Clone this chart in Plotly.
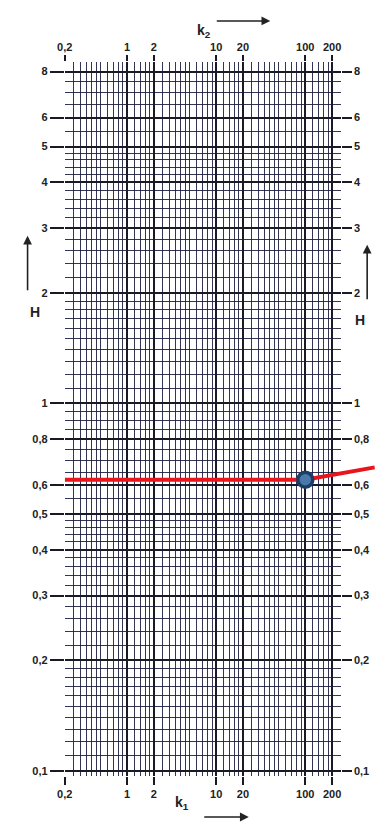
import numpy as np
import plotly.graph_objects as go

# ---- data -------------------------------------------------------------
# labelled k values (both k1 bottom and k2 top)
k_ticks = [0.2, 1, 2, 10, 20, 100, 200]
k_text = ["0,2", "1", "2", "10", "20", "100", "200"]
# labelled H values
h_ticks = [0.1, 0.2, 0.3, 0.4, 0.5, 0.6, 0.8, 1, 2, 3, 4, 5, 6, 8]
h_text = ["0,1", "0,2", "0,3", "0,4", "0,5", "0,6", "0,8", "1", "2", "3", "4", "5", "6", "8"]
# operating line and its point
line_k = [0.2, 100, 600]
line_h = [0.62, 0.62, 0.67]
point_k = [100]
point_h = [0.62]

# ---- log paper rulings -------------------------------------------------
k_mant = [1, 1.2, 1.4, 1.6, 1.8, 2, 2.5, 3, 3.5, 4, 4.5, 5, 6, 7, 8, 9]
h_mant = ([1 + 0.1 * i for i in range(10)] + [2 + 0.2 * i for i in range(15)]
          + [5 + 0.5 * i for i in range(10)])
k_grid = [round(m * 10 ** d, 6) for d in range(-1, 3) for m in k_mant]
k_grid = [v for v in k_grid if 0.2 <= v <= 250 and v not in k_ticks]
h_grid = [round(m * 10 ** d, 6) for d in range(-1, 1) for m in h_mant]
h_grid = [v for v in h_grid if 0.1 <= v <= 8 and v not in h_ticks]

W, H = 375, 831
x0_px, x1_px = 58, 340
k_lo, k_hi = 0.2, 250          # extent of the ruled sheet
x_lo, x_hi = np.log10(k_lo), np.log10(k_hi)
y_top_px, y_bot_px = 62, 777
y_lo, y_hi = -1.014, np.log10(8.5)
dom_x = [x0_px / W, x1_px / W]
dom_y = [(H - y_bot_px) / H, (H - y_top_px) / H]
# a second, wider k scale (same px per decade) lets the line run to the page edge
x_end = x_lo + (x_hi - x_lo) * (W - x0_px) / (x1_px - x0_px)
dom_x_wide = [x0_px / W, 1]

ink = "#1a1a26"
minor_ink = "rgba(30,30,64,0.9)"
font = dict(family="Liberation Sans, Arial, sans-serif", size=11, color="#222", weight="bold")

fig = go.Figure()
# invisible anchors so the ruled sheet and its top/right axes get drawn
fig.add_trace(go.Scatter(x=[1], y=[1], mode="markers", marker=dict(opacity=0),
                         hoverinfo="skip"))
fig.add_trace(go.Scatter(x=[1], y=[1], xaxis="x2", yaxis="y2", mode="markers",
                         marker=dict(opacity=0), hoverinfo="skip"))
# operating line on the wide scale
fig.add_trace(go.Scatter(x=line_k, y=line_h, mode="lines", xaxis="x3", yaxis="y3",
                         line=dict(color="#e8161c", width=4), hoverinfo="skip"))
fig.add_trace(go.Scatter(x=point_k, y=point_h, mode="markers", xaxis="x3", yaxis="y3",
                         cliponaxis=False,
                         marker=dict(size=15, color="#4a78a8",
                                     line=dict(color="#1b3d66", width=3.5))))

fig.update_layout(
    width=W, height=H, margin=dict(l=0, r=0, t=0, b=0),
    paper_bgcolor="white", plot_bgcolor="rgba(0,0,0,0)", showlegend=False,
    xaxis=dict(type="log", range=[x_lo, x_hi], domain=dom_x, anchor="y",
               tickvals=k_ticks, ticktext=k_text, ticks="outside", ticklen=8,
               tickwidth=1.5, tickcolor=ink, tickfont=font,
               showgrid=True, gridcolor=ink, gridwidth=1.7, zeroline=False,
               showline=False,
               minor=dict(tickvals=k_grid, showgrid=True, gridcolor=minor_ink,
                          gridwidth=1.1)),
    xaxis2=dict(type="log", range=[x_lo, x_hi], overlaying="x", side="top", anchor="y2",
                tickvals=k_ticks, ticktext=k_text, ticks="outside", ticklen=6,
                tickwidth=1.5, tickcolor=ink, tickfont=font, showgrid=False,
                zeroline=False, showline=False),
    xaxis3=dict(type="log", range=[x_lo, x_end], domain=dom_x_wide, anchor="y3",
                showgrid=False, zeroline=False, showticklabels=False, ticks="",
                showline=False),
    yaxis=dict(type="log", range=[y_lo, y_hi], domain=dom_y, anchor="x",
               tickvals=h_ticks, ticktext=h_text, ticks="outside", ticklen=14,
               tickwidth=1.5, tickcolor=ink, tickfont=font,
               showgrid=True, gridcolor=ink, gridwidth=1.7, zeroline=False,
               showline=False,
               minor=dict(tickvals=h_grid, showgrid=True, gridcolor=minor_ink,
                          gridwidth=1.1)),
    yaxis2=dict(type="log", range=[y_lo, y_hi], overlaying="y", side="right", anchor="x2",
                tickvals=h_ticks, ticktext=h_text, ticks="outside", ticklen=10,
                tickwidth=1.5, tickcolor=ink, tickfont=font, showgrid=False,
                zeroline=False, showline=False),
    yaxis3=dict(type="log", range=[y_lo, y_hi], domain=dom_y, anchor="x3",
                showgrid=False, zeroline=False, showticklabels=False, ticks="",
                showline=False),
)

arrow = dict(xref="paper", yref="paper", axref="pixel", ayref="pixel", showarrow=True,
             arrowhead=2, arrowsize=1.1, arrowwidth=1.6, arrowcolor="#222", text="")
lab = dict(xref="paper", yref="paper", showarrow=False,
           font=dict(family="Liberation Sans, Arial, sans-serif", size=14, color="#222",
                     weight="bold"))
fig.add_annotation(x=200 / W, y=1 - 20 / H, text="k<sub>2</sub>", **lab)
fig.add_annotation(x=268 / W, y=1 - 21 / H, ax=-55, ay=0, **arrow)
fig.add_annotation(x=178 / W, y=1 - 815 / H, text="k<sub>1</sub>", **lab)
fig.add_annotation(x=246 / W, y=1 - 818 / H, ax=-46, ay=0, **arrow)
fig.add_annotation(x=20 / W, y=1 - 312 / H, text="H", **lab)
fig.add_annotation(x=20 / W, y=1 - 236 / H, ax=0, ay=56, **arrow)
fig.add_annotation(x=367 / W, y=1 - 320 / H, text="H", **lab)
fig.add_annotation(x=367 / W, y=1 - 245 / H, ax=0, ay=56, **arrow)

fig.write_html("out.html")
